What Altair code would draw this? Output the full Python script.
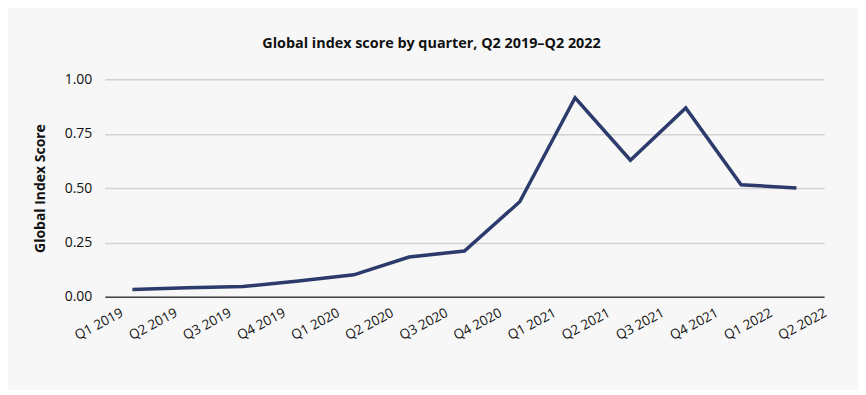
import altair as alt
import pandas as pd

# Data
axis_labels = ["Q1 2019", "Q2 2019", "Q3 2019", "Q4 2019", "Q1 2020", "Q2 2020", "Q3 2020",
               "Q4 2020", "Q1 2021", "Q2 2021", "Q3 2021", "Q4 2021", "Q1 2022", "Q2 2022"]
quarters = ["Q2 2019", "Q3 2019", "Q4 2019", "Q1 2020", "Q2 2020", "Q3 2020", "Q4 2020",
            "Q1 2021", "Q2 2021", "Q3 2021", "Q4 2021", "Q1 2022", "Q2 2022"]
scores = [0.033, 0.042, 0.047, 0.072, 0.101, 0.183, 0.210,
          0.437, 0.915, 0.628, 0.868, 0.515, 0.500]

df = pd.DataFrame({"idx": list(range(len(quarters))), "quarter": quarters, "score": scores})

# Layout of the category labels (the reference squeezes 14 labels under 13 points)
label_start = -0.337
label_step = 0.9778
tick_vals = [round(label_start + k * label_step, 4) for k in range(len(axis_labels))]
js_labels = "[" + ",".join("'" + s + "'" for s in axis_labels) + "]"
label_expr = f"{js_labels}[round((datum.value - ({label_start})) / {label_step})]"

LABEL_FONT = "Open Sans"
TITLE_FONT = "Open Sans"

chart = alt.Chart(df).mark_line(color="#2c3a6c", strokeWidth=3.5, strokeJoin="miter").encode(
    x=alt.X("idx:Q",
            scale=alt.Scale(domain=[-0.5, len(quarters) - 0.5], nice=False, zero=False),
            axis=alt.Axis(values=tick_vals, labelExpr=label_expr, title=None,
                          labelAngle=-28, labelAlign="right", labelBaseline="middle",
                          labelPadding=15, labelOffset=8, ticks=False, grid=False,
                          domainColor="#444444", domainWidth=1.5,
                          labelFont=LABEL_FONT, labelFontSize=13.5, labelColor="#111111",
                          labelOverlap=False, labelBound=False, labelFlush=False)),
    y=alt.Y("score:Q",
            scale=alt.Scale(domain=[0, 1], nice=False),
            axis=alt.Axis(values=[0, 0.25, 0.5, 0.75, 1.0], format=".2f",
                          title="Global Index Score", titleFont=TITLE_FONT,
                          titleFontSize=14, titleFontWeight="bold", titleColor="#111111",
                          titlePadding=17, labelPadding=13, ticks=False, domain=False,
                          gridColor="#d2d2d2", gridWidth=1.5,
                          labelFont=LABEL_FONT, labelFontSize=14, labelColor="#111111")),
).properties(
    width=721,
    height=218,
    title=alt.Title("Global index score by quarter, Q2 2019–Q2 2022",
                    font=TITLE_FONT, fontSize=14.4, fontWeight="bold", color="#111111",
                    anchor="middle", dx=-33, offset=21),
    background="#f7f7f7",
    padding={"left": 97, "top": 71, "right": 34, "bottom": 93},
    autosize=alt.AutoSizeParams(type="none"),
).configure_view(stroke=None)

chart.save("out.html", embed_options={"renderer": "svg", "actions": False})
